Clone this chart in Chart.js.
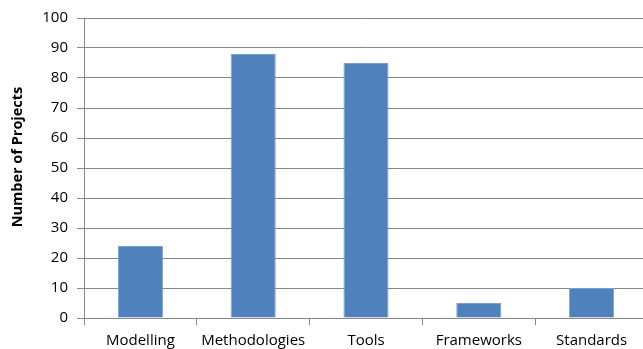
<!DOCTYPE html>
<html>
<head>
<meta charset="utf-8">
<script src="https://cdn.jsdelivr.net/npm/chart.js@4/dist/chart.umd.min.js"></script>
<style>
html,body{margin:0;padding:0;background:#fff;overflow:hidden;}
#wrap{width:643px;height:349px;overflow:hidden;position:relative;}
#box{width:648px;height:349px;position:absolute;left:0;top:0;}
</style>
</head>
<body>
<div id="wrap"><div id="box"><canvas id="c"></canvas></div></div>
<script>
const categories = ["Modelling", "Methodologies", "Tools", "Frameworks", "Standards"];
const projectCounts = [24, 88, 85, 5, 10];
const yTicks = [0, 10, 20, 30, 40, 50, 60, 70, 80, 90, 100];
const yTitle = "Number of Projects";

const FONT = "'Open Sans', sans-serif";

const yTitlePlugin = {
  id: 'yTitle',
  afterDraw(chart) {
    const ctx = chart.ctx;
    ctx.save();
    ctx.translate(18, 157);
    ctx.rotate(-Math.PI / 2);
    ctx.font = "bold 14.5px " + FONT;
    ctx.fillStyle = '#000';
    ctx.textAlign = 'center';
    ctx.textBaseline = 'middle';
    ctx.fillText(yTitle, 0, 0);
    ctx.restore();
  }
};

new Chart(document.getElementById('c'), {
  type: 'bar',
  data: {
    labels: categories,
    datasets: [{
      data: projectCounts,
      backgroundColor: '#4F81BD',
      borderColor: '#7A9FCB',
      borderWidth: 1,
      barPercentage: 0.4,
      categoryPercentage: 1.0
    }]
  },
  plugins: [yTitlePlugin],
  options: {
    responsive: true,
    maintainAspectRatio: false,
    animation: false,
    layout: { padding: { top: 10, right: 0, bottom: 0, left: 0 } },
    plugins: { legend: { display: false }, tooltip: { enabled: false } },
    scales: {
      x: {
        offset: true,
        grid: { offset: true, drawOnChartArea: false, drawTicks: true, tickLength: 7, color: '#868686' },
        border: { display: true, color: '#868686' },
        ticks: { color: '#000', font: { family: FONT, size: 15 }, padding: 7, maxRotation: 0 },
        afterFit: s => { s.height = 31; }
      },
      y: {
        min: 0, max: 100,
        afterBuildTicks: s => { s.ticks = yTicks.map(v => ({ value: v })); },
        grid: { color: '#868686', tickLength: 7 },
        border: { display: true, color: '#868686' },
        ticks: { color: '#000', font: { family: FONT, size: 15 }, padding: 9 },
        afterFit: s => { s.width = 84; }
      }
    }
  }
});
</script>
</body>
</html>
